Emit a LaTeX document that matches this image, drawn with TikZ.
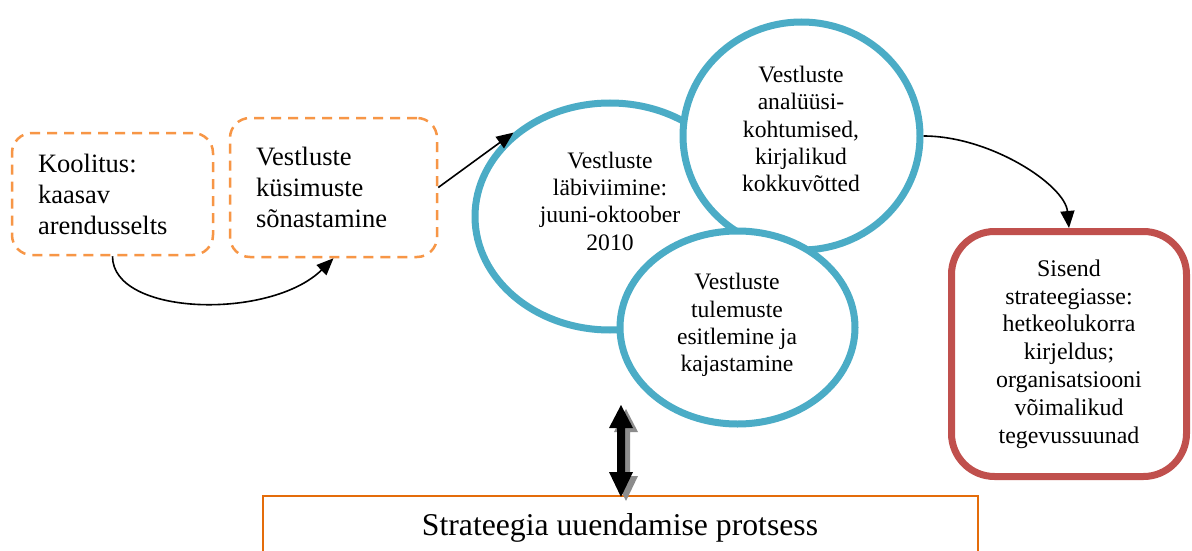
\documentclass[tikz,border=0pt]{standalone}
\usepackage{fontspec}
\setmainfont{Liberation Serif}
\usetikzlibrary{shapes.geometric,arrows.meta,calc}
\definecolor{cblue}{HTML}{4BACC6}
\definecolor{cred}{HTML}{C0504D}
\definecolor{corange}{HTML}{F79646}
\definecolor{cdorange}{HTML}{E46C0A}
\begin{document}
\begin{tikzpicture}[x=1pt,y=-1pt,
  dbox/.style={draw=corange, line width=2.5pt, dash pattern=on 10pt off 7pt,
    rounded corners=20pt, align=left, inner xsep=26pt, inner ysep=0pt,
    font=\fontsize{26.5}{31}\selectfont},
  circ/.style={ellipse, draw=cblue, line width=7pt, fill=white, inner sep=0pt},
  ctext/.style={align=center, font=\fontsize{23.6}{27.3}\selectfont, inner sep=0pt},
  arr/.style={line width=1.6pt, -{Triangle[length=17pt,width=14pt]}},
]
\clip (0,0) rectangle (1192,551);
\fill[white] (0,0) rectangle (1192,551);

% dashed boxes
\node[dbox, minimum width=201pt, minimum height=122pt, text width=149pt] (b1) at (112.5,194)
  {Koolitus:\\kaasav\\arendusselts};
\node[dbox, minimum width=207pt, minimum height=139pt, text width=155pt] (b2) at (333.5,187.5)
  {Vestluste\\küsimuste\\sõnastamine};

% circles
\node[circ, minimum width=270pt, minimum height=227pt] (c1) at (610,216.5) {};
\node[circ, minimum width=237pt, minimum height=228pt] (c2) at (801.5,136) {};
\node[circ, minimum width=235pt, minimum height=193pt] (c3) at (737.5,327.5) {};

\node[ctext] (t1) at (610,201) {Vestluste\\läbiviimine:\\juuni-oktoober\\2010};
\node[ctext] (t2) at (801,129) {Vestluste\\analüüsi-\\kohtumised,\\kirjalikud\\kokkuvõtted};
\node[ctext] (t3) at (737,325) {Vestluste\\tulemuste\\esitlemine ja\\kajastamine};

% red box
\node[draw=cred, line width=7pt, rounded corners=43pt, minimum width=235pt, minimum height=245pt,
  align=center, inner sep=0pt, font=\fontsize{23.9}{27.8}\selectfont] (rb) at (1069,354)
  {Sisend\\strateegiasse:\\hetkeolukorra\\kirjeldus;\\organisatsiooni\\võimalikud\\tegevussuunad};

% bottom box
\coordinate (bb1) at (263,496);
\coordinate (bb2) at (978,620);
\draw[cdorange, line width=2pt] (bb1) rectangle (bb2);
\node[anchor=base, inner sep=0pt, font=\fontsize{31.7}{36}\selectfont] (bt) at (620,535)
  {Strateegia uuendamise protsess};

% connectors
\draw[arr] (b1.south) .. controls ($(b1.south)+(0,60)$) and ($(b2.south)+(-63,62)$) .. (b2.south);
\draw[arr] (b2.east) -- (c1.139);
\draw[arr] (c2.east) .. controls ($(c2.east)+(67,0)$) and ($(rb.north)+(-4,-43)$) .. (rb.north);

% double block arrow with shadow
\coordinate (da) at (621,405);
\begin{scope}[shift={(626,409)}]
  \fill[gray!90] (0,0) -- (12,23) -- (4,23) -- (4,67) -- (12,67) -- (0,92) -- (-12,67) -- (-4,67) -- (-4,23) -- (-12,23) -- cycle;
\end{scope}
\begin{scope}[shift={(da)}]
  \fill[black] (0,0) -- (12,23) -- (4,23) -- (4,67) -- (12,67) -- (0,92) -- (-12,67) -- (-4,67) -- (-4,23) -- (-12,23) -- cycle;
\end{scope}
\end{tikzpicture}
\end{document}
